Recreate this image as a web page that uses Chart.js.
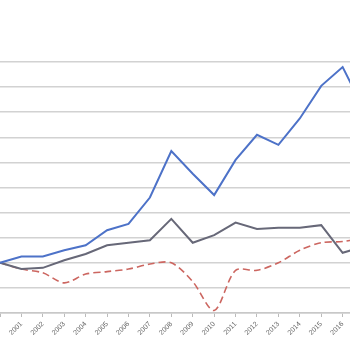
<!DOCTYPE html>
<html lang="en">
<head>
  <meta charset="UTF-8" />
  <title>Index chart</title>
  <script src="https://cdn.jsdelivr.net/npm/chart.js"></script>
  <style>
    html, body {
      margin: 0;
      padding: 0;
      background: white;
    }
    .wrap {
      position: relative;
      width: 350px;
      height: 350px;
      overflow: hidden;
    }
    #chart {
      position: absolute;
      left: -3px;
      top: 0;
    }
  </style>
</head>
<body>

<div class="wrap">
  <canvas id="chart" width="376" height="350"></canvas>
</div>

<script>
  // data (index, 2000 = 100)
  const years = ['2000', '2001', '2002', '2003', '2004', '2005', '2006', '2007', '2008',
                 '2009', '2010', '2011', '2012', '2013', '2014', '2015', '2016', '2017'];
  const blueSeries = [100, 105, 105, 110, 114, 126, 131, 152, 189, 171, 154, 182, 202, 194, 215, 241, 256, 222];
  const greySeries = [100, 95, 96, 102, 107, 114, 116, 118, 135, 116, 122, 132, 127, 128, 128, 130, 108, 113];
  const redSeries  = [100, 95, 92, 84, 91, 93, 95, 99, 100, 85, 62, 94, 94, 100, 110, 116, 117, 120];
  const yMin = 60, yMax = 260, yStep = 20;

  new Chart(document.getElementById('chart'), {
    type: 'line',
    data: {
      labels: years,
      datasets: [
        { data: blueSeries, borderColor: '#4d72c8', borderWidth: 2, pointRadius: 0, tension: 0 },
        { data: greySeries, borderColor: '#676878', borderWidth: 2, pointRadius: 0, tension: 0 },
        { data: redSeries, borderColor: '#cc6660', borderWidth: 1.6, borderDash: [7, 4], pointRadius: 0, tension: 0.3 }
      ]
    },
    options: {
      responsive: false,
      animation: false,
      layout: { padding: { top: 62, left: 0, right: 0, bottom: 0 } },
      plugins: { legend: { display: false }, tooltip: { enabled: false } },
      scales: {
        x: {
          offset: false,
          grid: { drawOnChartArea: false, drawTicks: true, tickLength: 4, color: '#bbbbbb' },
          border: { color: '#c8c8c8', width: 1.5 },
          ticks: {
            autoSkip: false,
            maxRotation: 45,
            minRotation: 45,
            color: '#666666',
            font: { family: 'Liberation Sans', size: 7 },
            callback: (v, i) => i === 0 ? '' : years[i]
          },
          afterFit: s => { s.height = 37; }
        },
        y: {
          min: yMin,
          max: yMax,
          ticks: { display: false, stepSize: yStep },
          grid: { color: '#d2d2d2', lineWidth: 1.5, drawTicks: false },
          border: { display: false }
        }
      }
    }
  });
</script>

</body>
</html>
